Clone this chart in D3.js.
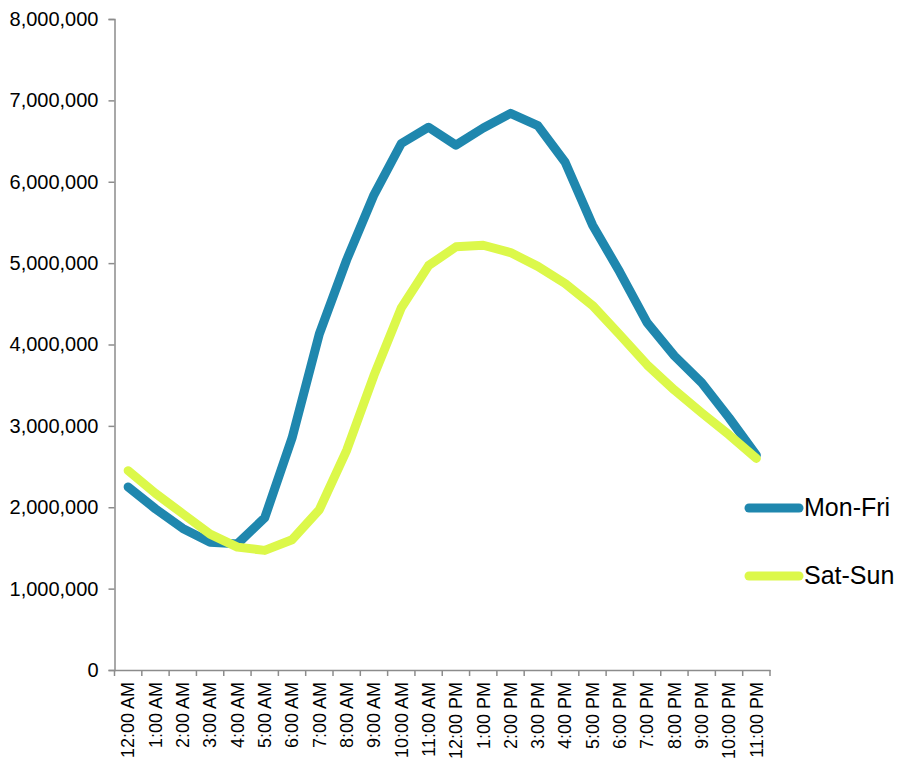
<!DOCTYPE html>
<html>
<head>
<meta charset="utf-8">
<script src="https://cdn.jsdelivr.net/npm/d3@7"></script>
<style>
  body { margin: 0; background: #fff; }
  text { font-family: "Liberation Sans", Arial, sans-serif; fill: #000; }
</style>
</head>
<body>
<div id="chart"></div>
<script>
// hours of the day (x categories)
const hours = ["12:00 AM", "1:00 AM", "2:00 AM", "3:00 AM", "4:00 AM", "5:00 AM",
  "6:00 AM", "7:00 AM", "8:00 AM", "9:00 AM", "10:00 AM", "11:00 AM",
  "12:00 PM", "1:00 PM", "2:00 PM", "3:00 PM", "4:00 PM", "5:00 PM",
  "6:00 PM", "7:00 PM", "8:00 PM", "9:00 PM", "10:00 PM", "11:00 PM"];

// weekday values
const monFri = [2250000, 1980000, 1740000, 1570000, 1550000, 1870000,
  2850000, 4130000, 5040000, 5840000, 6470000, 6670000,
  6450000, 6660000, 6840000, 6690000, 6240000, 5470000,
  4890000, 4270000, 3860000, 3530000, 3100000, 2640000];

// weekend values
const satSun = [2450000, 2170000, 1920000, 1670000, 1510000, 1470000,
  1600000, 1970000, 2700000, 3620000, 4450000, 4970000,
  5200000, 5220000, 5130000, 4960000, 4750000, 4480000,
  4120000, 3750000, 3440000, 3160000, 2890000, 2600000];

const yTicks = [0, 1000000, 2000000, 3000000, 4000000, 5000000, 6000000, 7000000, 8000000];

const series = [
  { name: "Mon-Fri", values: monFri, color: "#1f87ae" },
  { name: "Sat-Sun", values: satSun, color: "#dcf84a" }
];

const width = 913, height = 766;
const margin = { left: 114.5, right: 143, top: 19, bottom: 96 };

let svg = d3.select("#chart").append("svg")
  .attr("width", width)
  .attr("height", height);

let x = d3.scaleBand()
  .domain(hours)
  .range([margin.left, width - margin.right]);

let y = d3.scaleLinear()
  .domain([0, 8000000])
  .range([height - margin.bottom, margin.top]);

// y axis
let yAxis = svg.append("g")
  .attr("transform", `translate(${margin.left},0)`)
  .call(d3.axisLeft(y).tickValues(yTicks).tickSize(6).tickPadding(10)
    .tickFormat(d3.format(",")));

// x axis, ticks at band edges
let xAxis = svg.append("g")
  .attr("transform", `translate(0,${height - margin.bottom})`)
  .call(d3.axisBottom(x).tickSize(0).tickPadding(0));

xAxis.selectAll(".tick text")
  .attr("transform", "rotate(-90)")
  .attr("x", -12)
  .attr("y", 0)
  .attr("dy", "0.35em")
  .style("text-anchor", "end")
  .style("font-size", "18px");

// band edge ticks
xAxis.selectAll(".edge")
  .data(hours.concat(["end"]))
  .enter()
  .append("line")
  .attr("class", "edge")
  .attr("x1", (d, i) => margin.left + i * x.step())
  .attr("x2", (d, i) => margin.left + i * x.step())
  .attr("y1", 0)
  .attr("y2", 6)
  .attr("stroke", "#8c8c8c")
  .attr("stroke-width", 1.5);

svg.selectAll(".domain").attr("stroke", "#8c8c8c").attr("stroke-width", 1.5);
yAxis.selectAll(".tick line").attr("stroke", "#8c8c8c").attr("stroke-width", 1.5);
yAxis.selectAll(".tick text").style("font-size", "20px");

// lines
let line = d3.line()
  .x((d, i) => x(hours[i]) + x.bandwidth() / 2)
  .y(d => y(d));

svg.selectAll(".series")
  .data(series)
  .enter()
  .append("path")
  .attr("class", "series")
  .attr("d", d => line(d.values))
  .attr("fill", "none")
  .attr("stroke", d => d.color)
  .attr("stroke-width", 9)
  .attr("stroke-linecap", "round")
  .attr("stroke-linejoin", "round");

// legend
let legend = svg.selectAll(".legend")
  .data(series)
  .enter()
  .append("g")
  .attr("class", "legend")
  .attr("transform", (d, i) => `translate(749,${508 + i * 68})`);

legend.append("line")
  .attr("x1", 0).attr("x2", 50)
  .attr("stroke", d => d.color)
  .attr("stroke-width", 9)
  .attr("stroke-linecap", "round");

legend.append("text")
  .attr("x", 55)
  .attr("dy", "0.3em")
  .style("font-size", "25px")
  .text(d => d.name);
</script>
</body>
</html>
